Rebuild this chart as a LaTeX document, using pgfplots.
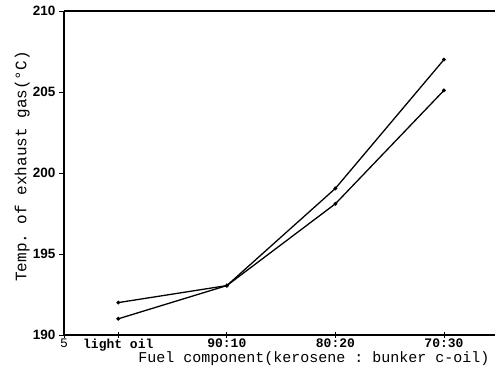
\documentclass[border=0pt]{standalone}
\usepackage{fontspec}
\setmainfont{Liberation Serif}
\setmonofont{Liberation Mono}
\setsansfont{Liberation Sans}
\usepackage{pgfplots}
\pgfplotsset{compat=1.18}
\usetikzlibrary{calc}
\begin{document}
\begin{tikzpicture}
\begin{axis}[
  scale only axis,
  width=431bp, height=324bp,
  xmin=0.5, xmax=4.47,
  ymin=190, ymax=210,
  axis x line=box, axis y line=left,
  axis line style={-, line width=1.1pt},
  xtick={0.5,1,2,3,4},
  xticklabels={5,\textbf{light oil},\textbf{90:10},\textbf{80:20},\textbf{70:30}},
  ytick={190,195,200,205,210},
  xtick pos=bottom, ytick pos=left,
  xtick align=center, ytick align=outside,
  major tick length=5bp,
  tick style={black, line width=0.8pt},
  x tick label style={font=\fontsize{13bp}{14bp}\ttfamily, inner sep=0pt, anchor=north, yshift=-1.5bp},
  y tick label style={font=\fontsize{13.5bp}{14bp}\sffamily\bfseries},
  /pgf/number format/assume math mode=true,
  xlabel={Fuel component(kerosene : bunker c-oil)},
  ylabel={Temp. of exhaust gas(°C)},
  xlabel style={font=\fontsize{15bp}{16bp}\ttfamily, at={(axis description cs:0.58,-0.074)}, anchor=center},
  ylabel style={font=\fontsize{16bp}{17bp}\ttfamily, at={(axis description cs:-0.097,0.52)}, anchor=center, rotate=0},
  clip=false,
]
\addplot[black, line width=1.3pt, mark=*, mark size=1.2pt] coordinates {(1,192) (2,193.05) (3,199.05) (4,207)};
\addplot[black, line width=1.3pt, mark=*, mark size=1.2pt] coordinates {(1,191) (2,193.05) (3,198.1) (4,205.1)};
\end{axis}
\pgfresetboundingbox
\path[use as bounding box] (current axis.south west) ++(-64bp,-38bp) rectangle ($(current axis.north east)+(0bp,11bp)$);
\end{tikzpicture}
\end{document}
